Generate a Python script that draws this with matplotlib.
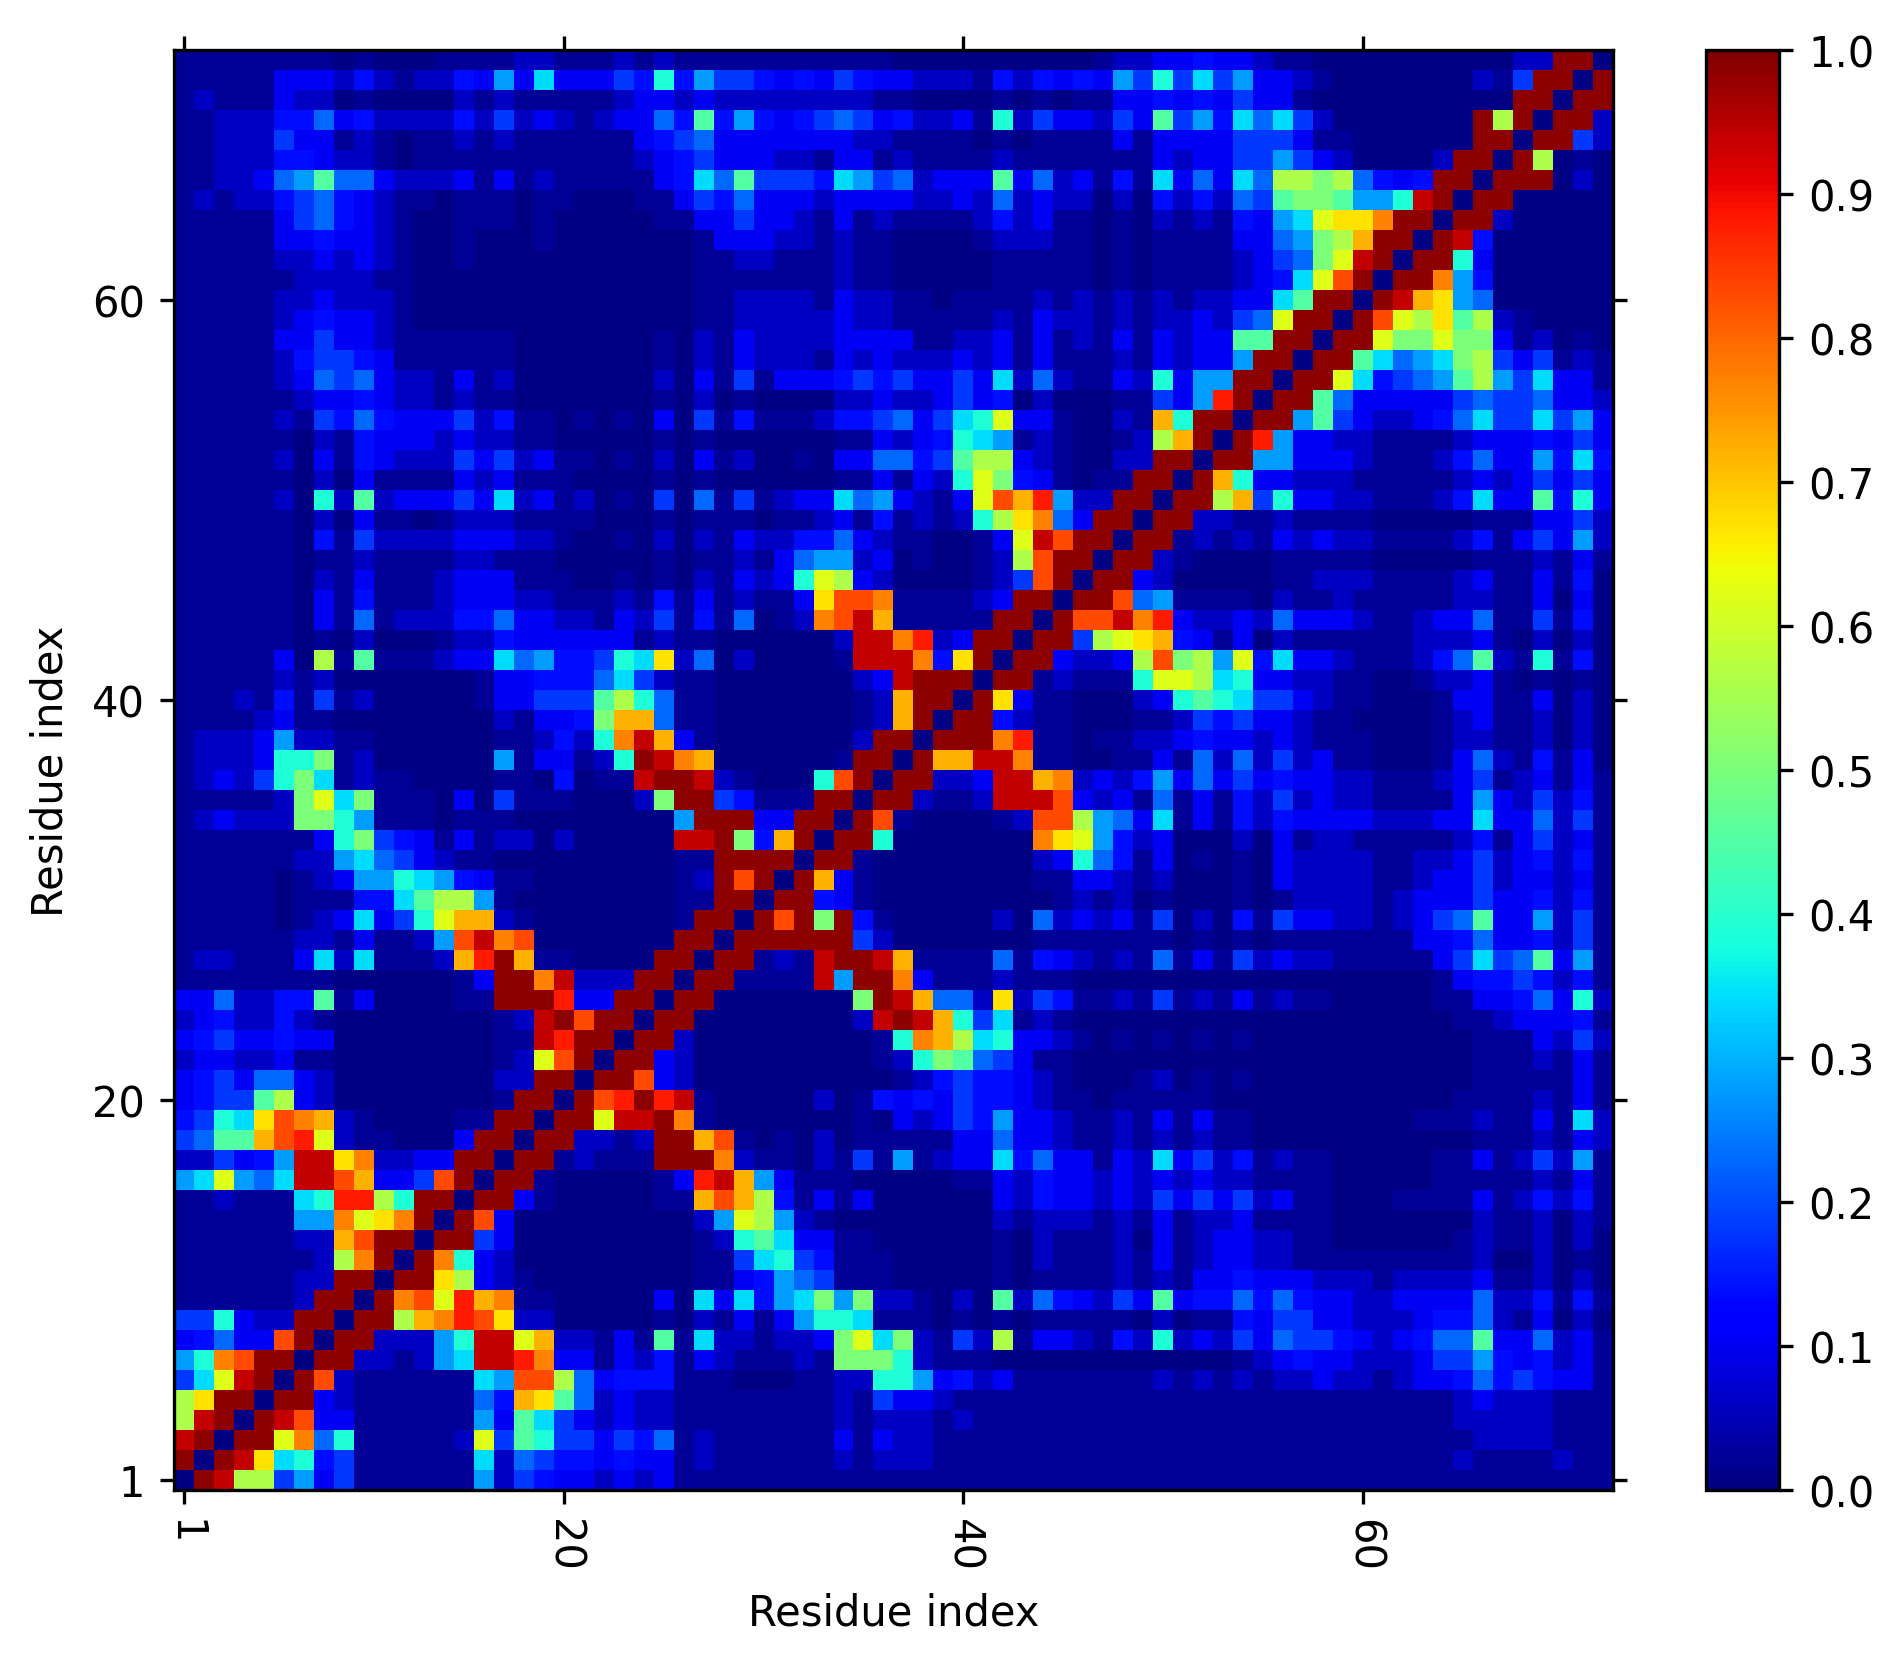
"""
Residue contact map with a jet colour bar
"""
from matplotlib import pyplot as plt
import numpy as np


# one character per cell, upper triangle only: row i runs from residue i to 72
level_chars = "0123456789abcdefghijk"
level_values = [0.005, 0.02, 0.06, 0.105, 0.14, 0.18, 0.23, 0.28, 0.34, 0.39, 0.45,
                0.5, 0.56, 0.62, 0.67, 0.72, 0.77, 0.83, 0.88, 0.94, 0.985]

rows_1_to_24 = [
    "0kjcc5735111111725433232" + "311111111111111111111111" + "111111111111111111111111",
    "0kje8945111111826544343" + "312111111212221111111111" + "111111111111111121111211",
    "0kkdg69111112d5a955354" + "612111111313221111111111" + "111111111111111112222111",
    "0kjh3311111173a853232" + "211111111212221211111111" + "111111111111111122222111",
    "0kk3211111164fea6232" + "211111111215332111111111" + "111111111111111123222111",
    "0kh211111187hhc6344" + "411100011229973423111111" + "121212122322123346454331",
    "0kk221278jjig33132" + "413211121bbb921110000000" + "000001234332223557434231",
    "0kk22279jjdf22131" + "a18221223bd8b2152c133214" + "29232536554323466a336231",
    "0kkcfgihe2200000" + "102131379981110101011111" + "020114355332223446213020",
    "0kghdifg1100000" + "30838478b7b221020a264325" + "3a3446464332233336224141",
    "0kkec321000000" + "001134765111000001011112" + "121334333222122223112020",
    "0kg9320000000" + "001158954111000001021112" + "131233221111111112002010",
    "0kk530000000" + "00129a833110000001021112" + "031233221100000012112020",
    "0kh30000000" + "0027dc721000000002122212" + "131223111100000002112021",
    "0kk3100000" + "11fhfc413130000003243323" + "253535231100011113124241",
    "0kk100000" + "13ijf7311100000113243323" + "232322111100000111112131",
    "0kk12111" + "kkkg21102151712338463313" + "283524121100000113125271",
    "0kk2212" + "kkfh10102011111336332112" + "121211000000000001112132",
    "0kkdjj" + "kg1000000010323547332112" + "131311000000001112113182",
    "0khik" + "ij1000002014343544321101" + "111100000000000011112131",
    "0kkh" + "320000000000124544321000" + "120101000000000001111131",
    "0kk" + "32000000000129ba65311000" + "000000000000000001112131",
    "0k" + "k200000000019gfc89332101" + "010101000000000001113252",
    "0" + "kk000000002jkjf958121000" + "000000000000000011233341",
]

rows_25_to_48 = [
    "0kk0000000bkjf662e254112" + "151213121100000113346392",
    "0kk1111j7kkg31112111000" + "000000000000000134454241",
    "0kk121jkkjf11116143212" + "16131523221111135856a371",
    "0kkkkkk52000000011111" + "110101011111113346334251",
    "0khkbk41000002062323" + "15020415332212356a337251",
    "0kk4310000000001212" + "010001012222123335334241",
    "0kf310000000011332" + "120001032222112335233231",
    "0kk10000000023964" + "130101032222112235234241",
    "0kk90000000ged74" + "230002031221111124135231",
    "0kh1000012hhc76" + "381314243333222338336251",
    "0kk2112jjjh323" + "161314252322111137325241",
    "0kk223jjfg232" + "473635343322111235123131",
    "0kffjjg11001" + "131626252311000136214130",
    "0kkkgi11011" + "223433232111000122112020",
    "0kk4211000" + "112545332110000123112020",
    "0ke311000" + "239a98553211000133113020",
    "0kk12111" + "9ddc89332211001223101010",
    "0kk3223" + "chbc7d48332111246a219140",
    "0kk5cd" + "ef4313021111112223102020",
    "0khhj" + "gi3223263332112336115140",
    "0kkh" + "671111021121111122113030",
    "0kk" + "320000011222111123113140",
    "0k" + "k21000011111000001112131",
    "0" + "kk1212132322111124135372",
]

rows_49_to_72 = [
    "0kk221121111000001113352",
    "0kkcf59332211124833a493",
    "0kf9332221111123235353",
    "0kk773332111246337484",
    "0ki73322111123334353",
    "0kk7a53223468558573",
    "0kka63333356556332",
    "0kkd84567ac758331",
    "0kka8678bc535121",
    "0kkdbbdbb312010",
    "0khdceac210000",
    "0kjfe76000000",
    "0kkg74000000",
    "0kk93000000",
    "0kj4000000",
    "0kk200000",
    "0kk00000",
    "0kkk020",
    "0kc010",
    "0kk52",
    "0kk2",
    "0kk",
    "0k",
    "0",
]

xtick_values = [1, 20, 40, 60]
ytick_values = [1, 20, 40, 60]
cbar_ticks = [0.0, 0.1, 0.2, 0.3, 0.4, 0.5, 0.6, 0.7, 0.8, 0.9, 1.0]


# ماتریس متقارن از روی مثلث بالا
upper_rows = rows_1_to_24 + rows_25_to_48 + rows_49_to_72
n = len(upper_rows)
contact = np.zeros((n, n))
for i, row in enumerate(upper_rows):
    assert len(row) == n - i, (i + 1, len(row))
    for j, ch in enumerate(row):
        v = level_values[level_chars.index(ch)]
        contact[i, i + j] = v
        contact[i + j, i] = v


W, H = 1903, 1665
fig = plt.figure(figsize=(W / 200, H / 200), dpi=200)

ax = fig.add_axes([174 / W, 1 - 1491 / H, (1613 - 174) / W, (1491 - 51) / H])
im = ax.imshow(contact, cmap="jet", vmin=0, vmax=1, origin="lower", interpolation="nearest",
               extent=(0.5, n + 0.5, 0.5, n + 0.5), aspect="auto")

ax.set_xticks(xtick_values)
ax.set_yticks(ytick_values)
ax.set_xticklabels([str(t) for t in xtick_values], rotation=270)
ax.tick_params(direction="out", length=5, width=1.2, top=True, right=True, labelsize=15)
ax.tick_params(axis="x", pad=5)
ax.tick_params(axis="y", pad=5.5)
ax.set_xlabel("Residue index", fontsize=15, labelpad=7.5)
ax.set_ylabel("Residue index", fontsize=15, labelpad=7.5)
for s in ax.spines.values():
    s.set_linewidth(1.2)

cax = fig.add_axes([1706 / W, 1 - 1491 / H, (1779 - 1706) / W, (1491 - 51) / H])
cbar = fig.colorbar(im, cax=cax, ticks=cbar_ticks)
cbar.ax.tick_params(direction="out", length=5, width=1.2, labelsize=15, pad=5.5)
cbar.outline.set_linewidth(1.2)

fig.savefig("out.png", dpi=200)
